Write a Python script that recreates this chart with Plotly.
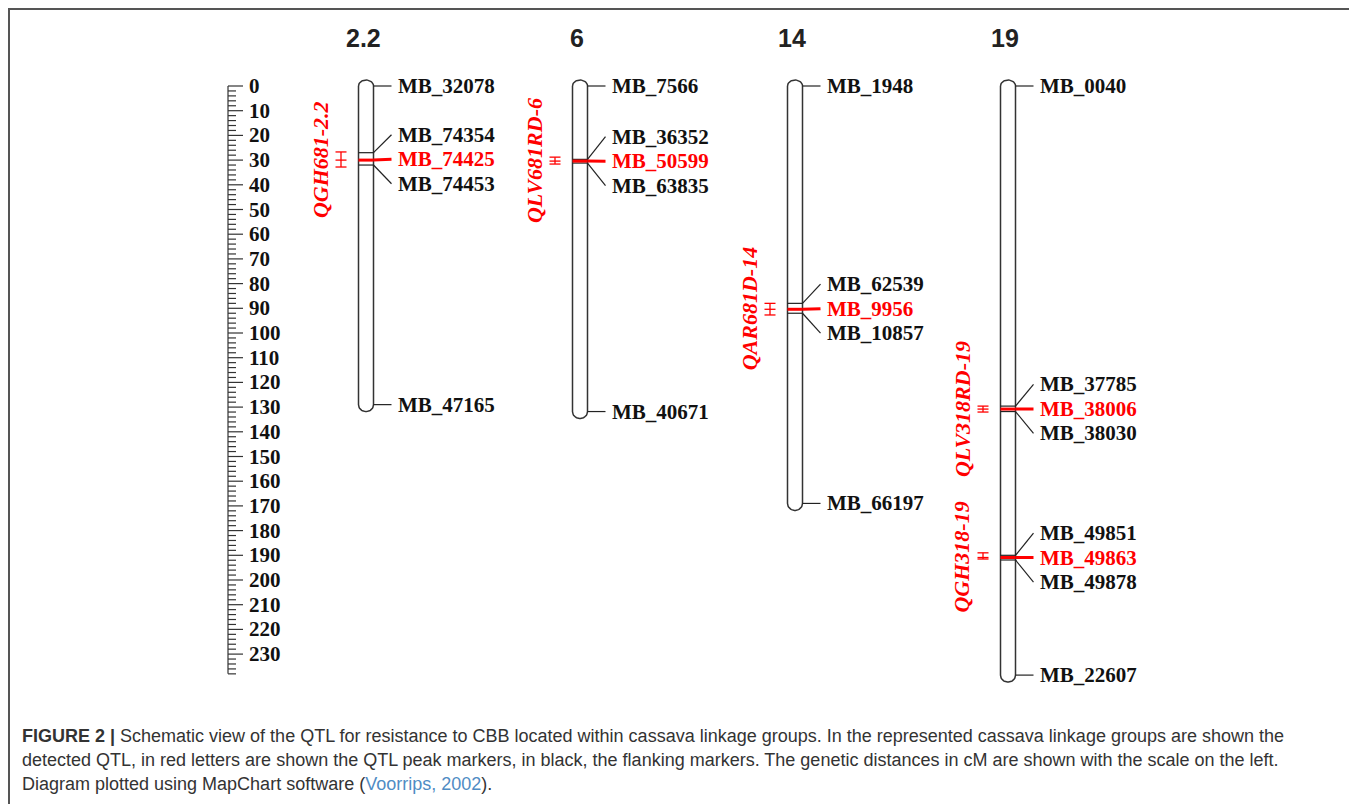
import numpy as np
import plotly.graph_objects as go

# ---------------- data ----------------
groups = ["2.2", "6", "14", "19"]

lg22_markers = ["MB_32078", "MB_74354", "MB_74425", "MB_74453", "MB_47165"]
lg22_cm = [0.0, 27.0, 30.0, 32.0, 129.0]

lg6_markers = ["MB_7566", "MB_36352", "MB_50599", "MB_63835", "MB_40671"]
lg6_cm = [0.0, 29.7, 30.4, 31.2, 131.8]

lg14_markers = ["MB_1948", "MB_62539", "MB_9956", "MB_10857", "MB_66197"]
lg14_cm = [0.0, 88.0, 90.4, 92.0, 169.0]

lg19_markers = ["MB_0040", "MB_37785", "MB_38006", "MB_38030",
                "MB_49851", "MB_49863", "MB_49878", "MB_22607"]
lg19_cm = [0.0, 129.6, 130.8, 131.8, 190.0, 190.9, 191.9, 238.5]

peak_markers = ["MB_74425", "MB_50599", "MB_9956", "MB_38006", "MB_49863"]

qtl_names = ["QGH681-2.2", "QLV681RD-6", "QAR681D-14", "QLV318RD-19", "QGH318-19"]
qtl_group = ["2.2", "6", "14", "19", "19"]
qtl_start = [26.7, 28.8, 88.0, 129.6, 189.0]
qtl_peak = [30.0, 30.4, 90.4, 130.8, 190.9]
qtl_end = [32.8, 31.6, 92.7, 132.0, 191.5]

scale_max = 238
scale_major = 10
scale_minor = 2

caption_lines = [
    "<b>FIGURE 2 |</b> Schematic view of the QTL for resistance to CBB located within cassava linkage groups. "
    "In the represented cassava linkage groups are shown the",
    "detected QTL, in red letters are shown the QTL peak markers, in black, the flanking markers. "
    "The genetic distances in cM are shown with the scale on the left.",
    "Diagram plotted using MapChart software (<span style='color:#4f8cc4'>Voorrips, 2002</span>).",
]

# ---------------- layout constants ----------------
W, H = 1357, 804
OFF = 8                      # page body margin
FW, FH = W - OFF, H - OFF    # figure size
PX_PER_CM = 2.47
Y0_PX = 86
group_x = {"2.2": 366, "6": 580, "14": 795, "19": 1008}
scale_x = 228
HALF_W = 7.5
LBL_GAP = 24.5 / PX_PER_CM

group_data = {
    "2.2": (lg22_markers, lg22_cm),
    "6": (lg6_markers, lg6_cm),
    "14": (lg14_markers, lg14_cm),
    "19": (lg19_markers, lg19_cm),
}

SERIF = "Liberation Serif, Times New Roman, serif"
SANS = "Liberation Sans, Arial, sans-serif"


def px_x(px):
    return (px - OFF) / FW


def px_y(py):
    return 1 - (py - OFF) / FH


def spread(pos, gap):
    def place(bl):
        c = np.mean([pos[j] - k * gap for k, j in enumerate(bl)])
        return [c + k * gap for k in range(len(bl))]
    blocks = []
    for i in range(len(pos)):
        blocks.append([i])
        while len(blocks) > 1 and place(blocks[-2])[-1] + gap > place(blocks[-1])[0] + 1e-9:
            blocks[-2] = blocks[-2] + blocks[-1]
            blocks.pop()
    out = []
    for bl in blocks:
        out += place(bl)
    return out


fig = go.Figure()
annotations = []

# chromosome outlines
ox, oy = [], []
t = np.linspace(0, np.pi, 24)
cap_top = 6 / PX_PER_CM
cap_bot = 7 / PX_PER_CM
for g in groups:
    cx = group_x[g]
    L = group_data[g][1][-1]
    xs = list(cx - HALF_W * np.cos(t)) + [cx + HALF_W] + list(cx + HALF_W * np.cos(t)) + [cx - HALF_W, cx - HALF_W]
    ys = list(-cap_top * np.sin(t)) + [L] + list(L + cap_bot * np.sin(t)) + [0, 0]
    ox += xs + [None]
    oy += ys + [None]
fig.add_trace(go.Scatter(x=ox, y=oy, mode="lines", fill="toself", fillcolor="white",
                         line=dict(color="#333333", width=1.5), hoverinfo="skip"))

# marker lines, connectors, labels
bx, by, rx, ry = [], [], [], []
for g in groups:
    cx = group_x[g]
    names, cms = group_data[g]
    lbl = spread(cms, LBL_GAP)
    n = len(names)
    for i, (nm, cm, ly) in enumerate(zip(names, cms, lbl)):
        red = nm in peak_markers
        X, Y = (rx, ry) if red else (bx, by)
        if 0 < i < n - 1:
            X += [cx - HALF_W, cx + HALF_W, None]
            Y += [cm, cm, None]
        X += [cx + HALF_W, cx + HALF_W + 18, None]
        Y += [cm, ly, None]
        annotations.append(dict(x=cx + HALF_W + 22, y=ly, xref="x", yref="y", text=nm,
                                showarrow=False, xanchor="left", yanchor="middle",
                                font=dict(family=SERIF, size=21, weight="bold",
                                          color="#ff0000" if red else "#111111")))

fig.add_trace(go.Scatter(x=bx, y=by, mode="lines", line=dict(color="#222222", width=1.2),
                         hoverinfo="skip"))
fig.add_trace(go.Scatter(x=rx, y=ry, mode="lines", line=dict(color="#ff0000", width=3),
                         hoverinfo="skip"))

# QTL interval symbols and names
qx, qy = [], []
for nm, g, s, p, e in zip(qtl_names, qtl_group, qtl_start, qtl_peak, qtl_end):
    x = group_x[g] - 25
    qx += [x, x, None, x - 5.5, x + 5.5, None, x - 5.5, x + 5.5, None, x - 5.5, x + 5.5, None]
    qy += [s, e, None, s, s, None, e, e, None, p, p, None]
    annotations.append(dict(x=group_x[g] - 46, y=p, xref="x", yref="y", text=nm,
                            showarrow=False, textangle=-90, xanchor="center", yanchor="middle",
                            font=dict(family=SERIF, size=22, weight="bold", style="italic",
                                      color="#ff0000")))
fig.add_trace(go.Scatter(x=qx, y=qy, mode="lines", line=dict(color="#ff0000", width=1.3),
                         hoverinfo="skip"))

# scale bar
sx, sy = [scale_x, scale_x, None], [0, scale_max, None]
for v in range(0, scale_max + 1, scale_minor):
    major = v % scale_major == 0
    sx += [scale_x, scale_x + (15 if major else 8), None]
    sy += [v, v, None]
    if major:
        annotations.append(dict(x=scale_x + 19, y=v, xref="x", yref="y", text=str(v),
                                showarrow=False, xanchor="left", yanchor="middle",
                                font=dict(family=SERIF, size=21, weight="bold", color="#111111")))
fig.add_trace(go.Scatter(x=sx, y=sy, mode="lines", line=dict(color="#333333", width=1.2),
                         hoverinfo="skip"))

# group titles
for g in groups:
    annotations.append(dict(x=group_x[g] - 3, y=px_y(38), xref="x", yref="paper", text=g,
                            showarrow=False, xanchor="center", yanchor="middle",
                            font=dict(family=SANS, size=25, weight="bold", color="#222222")))

# caption
for k, line in enumerate(caption_lines):
    annotations.append(dict(x=px_x(20), y=px_y(736 + 24 * k), xref="paper", yref="paper",
                            text=line, showarrow=False, xanchor="left", yanchor="middle",
                            font=dict(family=SANS, size=18, color="#333333")))

fig.update_layout(
    width=FW, height=FH,
    margin=dict(l=0, r=0, t=0, b=0),
    paper_bgcolor="white", plot_bgcolor="white",
    showlegend=False,
    xaxis=dict(range=[OFF, W], visible=False, fixedrange=True),
    yaxis=dict(range=[(H - Y0_PX) / PX_PER_CM, (OFF - Y0_PX) / PX_PER_CM],
               visible=False, fixedrange=True),
    annotations=annotations,
    shapes=[dict(type="rect", xref="paper", yref="paper", x0=1 / FW, x1=px_x(1355),
                 y0=-0.05, y1=1 - 1 / FH, line=dict(color="#555555", width=2))],
)

fig.write_html("out.html")
